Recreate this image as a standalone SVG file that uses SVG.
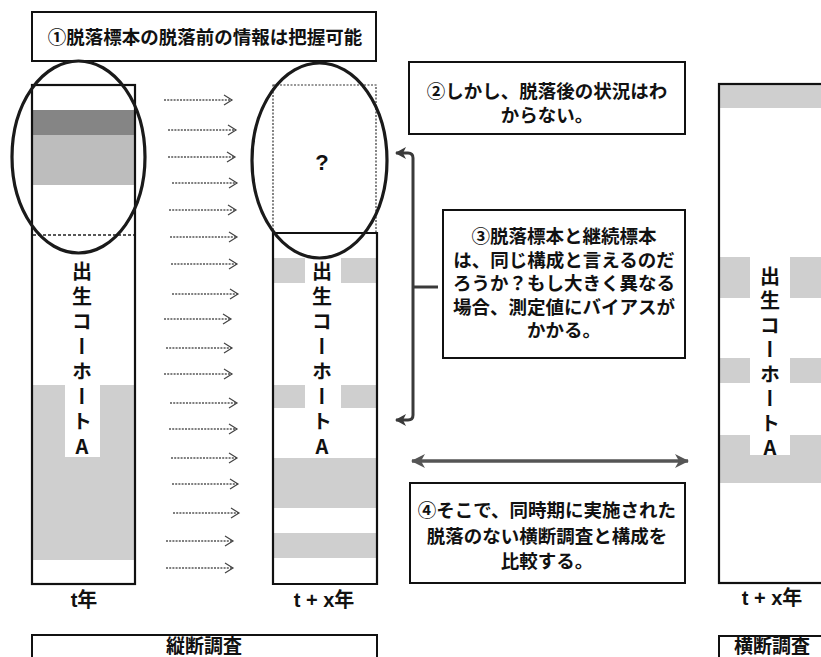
<svg xmlns="http://www.w3.org/2000/svg" width="821" height="657" viewBox="0 0 821 657">
<style>
  text { font-family: "Noto Sans CJK JP", "Noto Sans", sans-serif; font-weight: bold; fill: #111; }
  .box { fill: #fff; stroke: #111; stroke-width: 2; }
  .col { fill: none; stroke: #111; stroke-width: 2.2; }
  .ell { fill: none; stroke: #1a1a1a; stroke-width: 3.2; }
  .arr { stroke: #555; stroke-width: 1.3; stroke-dasharray: 2 1.2; fill: none; marker-end: url(#chev); }
  .vt { font-size: 20px; writing-mode: vertical-rl; text-orientation: upright; letter-spacing: 5px; }
  .g1 { fill: #cfcfcf; }
  .g2 { fill: #bdbdbd; }
  .g3 { fill: #858585; }
  .bt { font-size: 18.5px; text-anchor: middle; }
  .lab { font-family: "Liberation Sans", "Noto Sans CJK JP", sans-serif; font-size: 20px; text-anchor: middle; }
  .q { font-family: "Liberation Sans", sans-serif; font-size: 22px; text-anchor: middle; }
</style>
<defs>
  <marker id="chev" markerUnits="userSpaceOnUse" markerWidth="12" markerHeight="12" refX="8" refY="5" orient="auto" overflow="visible">
    <path d="M0,0 L8,5 L0,10" fill="none" stroke="#444" stroke-width="1.2"/>
  </marker>
  <marker id="bar" markerUnits="userSpaceOnUse" markerWidth="14" markerHeight="14" refX="10" refY="6" orient="auto-start-reverse" overflow="visible">
    <path d="M0,0 L11,6 L0,12 L3,6 Z" fill="#3a3a3a"/>
  </marker>
  <marker id="dbl" markerUnits="userSpaceOnUse" markerWidth="16" markerHeight="16" refX="13" refY="7" orient="auto-start-reverse" overflow="visible">
    <path d="M0,0 L14,7 L0,14 L4,7 Z" fill="#555"/>
  </marker>
</defs>

<rect width="821" height="657" fill="#fff"/>

<g id="note1">
  <rect class="box" x="32" y="12" width="344" height="49"/>
  <text x="205" y="44" font-size="18.5" text-anchor="middle">①脱落標本の脱落前の情報は把握可能</text>
</g>

<g id="column-t">
  <rect class="g3" x="33" y="110" width="101" height="25"/>
  <rect class="g2" x="33" y="135" width="101" height="50"/>
  <rect class="g1" x="33" y="385" width="32" height="72"/>
  <rect class="g1" x="100" y="385" width="34" height="72"/>
  <rect class="g1" x="33" y="457" width="101" height="103"/>
  <rect class="col" x="32" y="85" width="103" height="499"/>
  <line x1="33" y1="235" x2="134" y2="235" stroke="#222" stroke-width="1.3" stroke-dasharray="3 2"/>
  <text class="vt" x="82" y="261">出生コーホートA</text>
  <text class="lab" x="84" y="607">t年</text>
</g>

<g id="column-tx">
  <rect class="g1" x="274" y="258" width="31" height="25"/>
  <rect class="g1" x="341" y="258" width="35" height="25"/>
  <rect class="g1" x="274" y="385" width="31" height="23"/>
  <rect class="g1" x="341" y="385" width="35" height="23"/>
  <rect class="g1" x="274" y="458" width="102" height="50"/>
  <rect class="g1" x="274" y="533" width="102" height="25"/>
  <rect x="273" y="85" width="103" height="148" fill="none" stroke="#333" stroke-width="1.2" stroke-dasharray="2 1.5"/>
  <path class="col" d="M273,233 L377,233 L377,584 L273,584 Z"/>
  <text class="q" x="322" y="170">?</text>
  <text class="vt" x="322" y="261">出生コーホートA</text>
  <text class="lab" x="324" y="607">t + x年</text>
</g>

<g id="dropout-ellipses">
  <ellipse class="ell" cx="78.5" cy="157" rx="66.5" ry="96"/>
  <ellipse class="ell" cx="319.5" cy="160.5" rx="67.5" ry="97.5"/>
</g>

<g id="connectors">
  <path class="arr" d="M164,100 L232,100"/>
  <path class="arr" d="M168,130 L236,130"/>
  <path class="arr" d="M168,157 L235,157"/>
  <path class="arr" d="M172,183 L237,183"/>
  <path class="arr" d="M169,210 L236,210"/>
  <path class="arr" d="M170,237 L237,237"/>
  <path class="arr" d="M171,264 L237,264"/>
  <path class="arr" d="M172,294 L238,294"/>
  <path class="arr" d="M164,319 L231,319"/>
  <path class="arr" d="M166,348 L232,348"/>
  <path class="arr" d="M164,374 L232,374"/>
  <path class="arr" d="M170,403 L237,403"/>
  <path class="arr" d="M169,429 L237,429"/>
  <path class="arr" d="M171,458 L237,458"/>
  <path class="arr" d="M172,484 L238,484"/>
  <path class="arr" d="M173,513 L239,513"/>
  <path class="arr" d="M166,541 L233,541"/>
  <path class="arr" d="M166,568 L233,568"/>
  <path d="M396,153 L408,153 Q413,153 413,158 L413,415 Q413,420 408,420 L396,420" fill="none" stroke="#3a3a3a" stroke-width="3" marker-start="url(#bar)" marker-end="url(#bar)"/>
  <path d="M413,287 L438,287" fill="none" stroke="#3a3a3a" stroke-width="3"/>
  <path d="M412,461 L688,461" fill="none" stroke="#555" stroke-width="3.5" marker-start="url(#dbl)" marker-end="url(#dbl)"/>
</g>

<g id="note2">
  <rect class="box" x="409" y="62" width="276" height="72"/>
  <text class="bt" x="547" y="98">②しかし、脱落後の状況はわ</text>
  <text class="bt" x="547" y="122">からない。</text>
</g>

<g id="note3">
  <rect class="box" x="443" y="210" width="242" height="148"/>
  <text class="bt" x="564" y="243">③脱落標本と継続標本</text>
  <text class="bt" x="564" y="266.5">は、同じ構成と言えるのだ</text>
  <text class="bt" x="564" y="290">ろうか？もし大きく異なる</text>
  <text class="bt" x="564" y="313.5">場合、測定値にバイアスが</text>
  <text class="bt" x="564" y="337">かかる。</text>
</g>

<g id="note4">
  <rect class="box" x="410" y="483" width="275" height="100"/>
  <text class="bt" x="547" y="517">④そこで、同時期に実施された</text>
  <text class="bt" x="547" y="543">脱落のない横断調査と構成を</text>
  <text class="bt" x="547" y="568">比較する。</text>
</g>

<g id="column-cross">
  <rect class="g1" x="720" y="85" width="110" height="23"/>
  <rect class="g1" x="720" y="257" width="30" height="41"/>
  <rect class="g1" x="790" y="257" width="40" height="41"/>
  <rect class="g1" x="720" y="358" width="30" height="25"/>
  <rect class="g1" x="790" y="358" width="40" height="25"/>
  <rect class="g1" x="720" y="435" width="30" height="20"/>
  <rect class="g1" x="790" y="435" width="40" height="20"/>
  <rect class="g1" x="720" y="455" width="110" height="28"/>
  <rect class="col" x="719" y="84" width="120" height="499"/>
  <text class="vt" x="770" y="266" style="letter-spacing:4.5px">出生コーホートA</text>
  <text class="lab" x="772" y="605">t + x年</text>
</g>

<g id="longitudinal">
  <rect class="box" x="32" y="635" width="345" height="40"/>
  <text x="204" y="653" font-size="19" text-anchor="middle">縦断調査</text>
</g>

<g id="cross-sectional">
  <rect class="box" x="719" y="636" width="120" height="40"/>
  <text x="772" y="653" font-size="19" text-anchor="middle">横断調査</text>
</g>
</svg>
